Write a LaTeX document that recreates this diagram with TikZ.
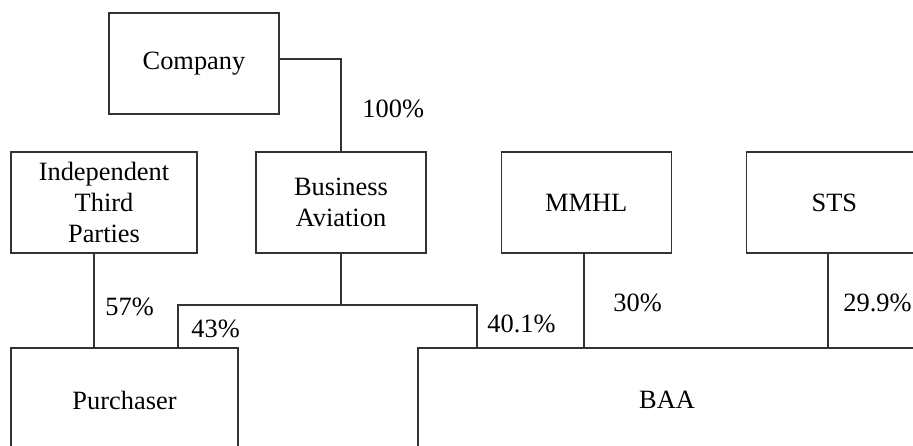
\documentclass[tikz,border=0pt]{standalone}
\usepackage{fontspec}
\setmainfont{Liberation Serif}
\usetikzlibrary{positioning}

\tikzset{
    holder/.style={draw=black!80, line width=0.6pt, minimum width=85pt, minimum height=50.5pt, inner sep=2pt, align=center, font=\fontsize{13.2}{15.5}\selectfont},
    share/.style={anchor=west, inner sep=0pt, font=\fontsize{13.2}{15.5}\selectfont},
    link/.style={draw=black!80, line width=0.6pt}
}

\begin{document}
\begin{tikzpicture}[x=0.5pt, y=-0.5pt]
    \useasboundingbox (0,0) rectangle (913,445);
    \clip (0,0) rectangle (913,445);

    % owners
    \node[holder] (comp) at (194,63.5) {Company};
    \node[holder, minimum width=93pt] (itp) at (104,202.5) {Independent\\Third\\Parties};
    \node[holder] (bav) at (341,202.5) {Business\\Aviation};
    \node[holder, right=37pt of bav] (mmhl) {MMHL};
    \node[holder, minimum width=88pt, right=37pt of mmhl] (sts) {STS};

    % companies held
    \node[holder, minimum width=113.5pt, minimum height=52pt] (pur) at (124.5,400) {Purchaser};
    \node[holder, minimum width=249pt, minimum height=52pt] (baa) at (667,400) {BAA};

    % branch points
    \coordinate (compout) at (279,59);
    \coordinate (itpdown) at (94,253);
    \coordinate (busL) at (178,305);
    \coordinate (busR) at (477,305);
    \coordinate (mmhldown) at (584,253);
    \coordinate (stsdown) at (828,253);

    % lines of ownership
    \draw[link] (compout) -| (bav.north);
    \draw[link] (itpdown) -- (itpdown |- pur.north);
    \draw[link] (bav.south) -- (bav.south |- busL);
    \draw[link] (busL |- pur.north) -- (busL) -- (busR) -- (busR |- baa.north);
    \draw[link] (mmhldown) -- (mmhldown |- baa.north);
    \draw[link] (stsdown) -- (stsdown |- baa.north);

    % percentages
    \node[share] (p100) at (362,109) {100\%};
    \node[share] (p57) at (105,307) {57\%};
    \node[share] (p43) at (191,329) {43\%};
    \node[share] (p401) at (487,324) {40.1\%};
    \node[share] (p30) at (613,303) {30\%};
    \node[share] (p299) at (843,303) {29.9\%};
\end{tikzpicture}
\end{document}
